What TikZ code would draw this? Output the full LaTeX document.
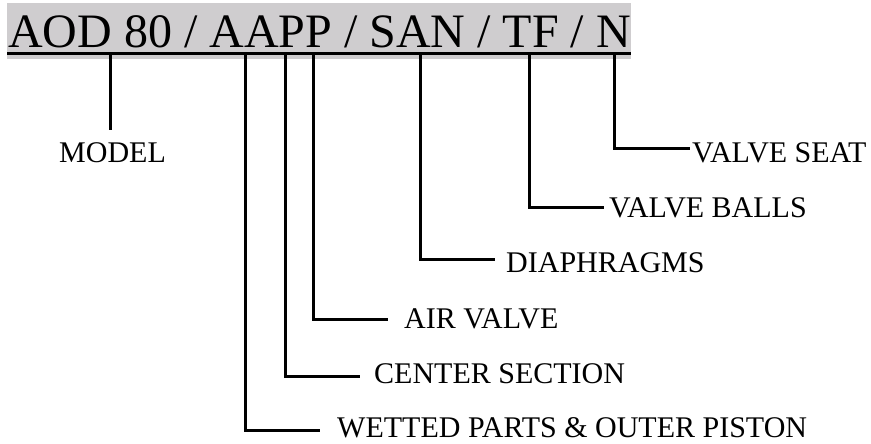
\documentclass[tikz,border=0pt]{standalone}
\usepackage{fontspec}
\setmainfont{Liberation Serif}
\definecolor{bandgray}{RGB}{207,205,207}
\begin{document}
\begin{tikzpicture}[x=1pt,y=-1pt,
  lbl/.style={anchor=base west,inner sep=0pt,font=\fontsize{30}{30}\selectfont},
  conn/.style={line width=3pt,line cap=butt,line join=miter}]
\useasboundingbox (0,0) rectangle (871,444);
\fill[bandgray] (7,3) rectangle (631,58.7);
\node[anchor=base west,inner sep=0pt,font=\fontsize{48}{48}\selectfont] (title) at (8,48) {AOD 80 / AAPP / SAN / TF / N};
\draw[line width=3pt] (7,53.3) -- (631,53.3);
% labels
\node[lbl] (model) at (59,162.5) {MODEL};
\node[lbl] (seat) at (692,162.7) {VALVE SEAT};
\node[lbl] (balls) at (609,217.7) {VALVE BALLS};
\node[lbl] (diaph) at (506,272) {DIAPHRAGMS};
\node[lbl] (air) at (404,328) {AIR VALVE};
\node[lbl] (center) at (374,383) {CENTER SECTION};
\node[lbl] (wetted) at (337,437) {WETTED PARTS \& OUTER PISTON};
% connector ends
\coordinate (tM) at (110,54);
\coordinate (eM) at (110,130);
\coordinate (tW) at (245,54);
\coordinate (eW) at (320,430);
\coordinate (tC) at (285,54);
\coordinate (eC) at (360,376);
\coordinate (tA) at (313,54);
\coordinate (eA) at (388,319);
\coordinate (tD) at (420,54);
\coordinate (eD) at (495,259);
\coordinate (tB) at (529,54);
\coordinate (eB) at (604,207);
\coordinate (tS) at (614,54);
\coordinate (eS) at (690,148.5);
\draw[conn] (tM) -- (eM);
\draw[conn] (tW) |- (eW);
\draw[conn] (tC) |- (eC);
\draw[conn] (tA) |- (eA);
\draw[conn] (tD) |- (eD);
\draw[conn] (tB) |- (eB);
\draw[conn] (tS) |- (eS);
\end{tikzpicture}
\end{document}
